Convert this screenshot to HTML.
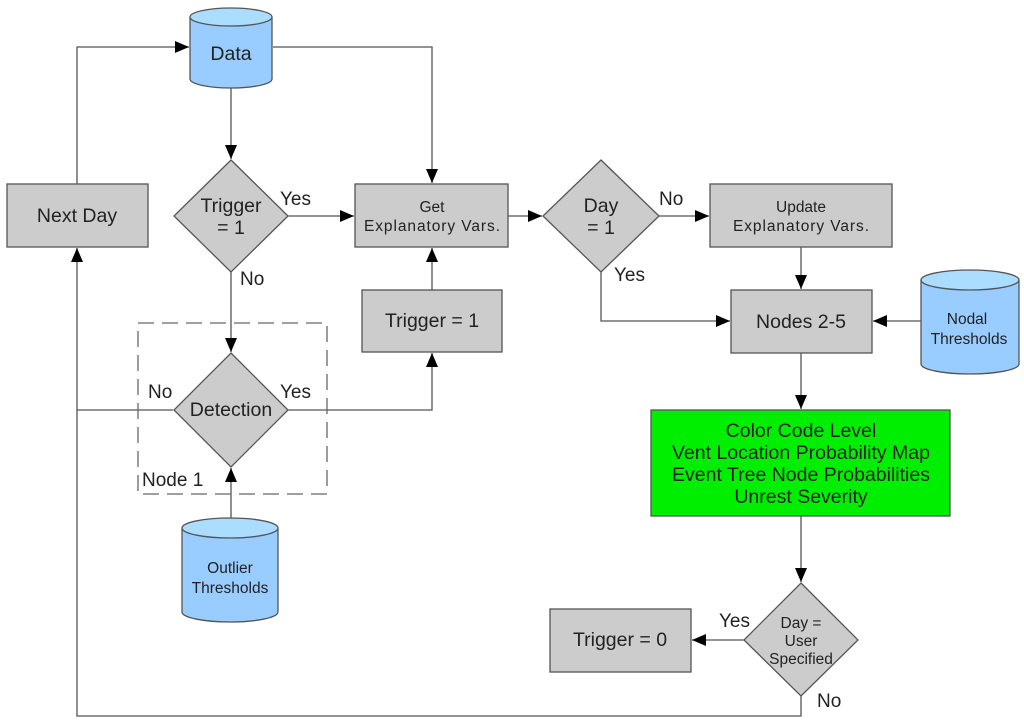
<!DOCTYPE html>
<html><head><style>body{margin:0;background:#fff}svg{display:block}text{font-family:"Liberation Sans",sans-serif;fill:#222}</style></head><body>
<svg width="1024" height="723" viewBox="0 0 1024 723">
<defs><marker id="a" markerWidth="14" markerHeight="12" refX="14" refY="6" orient="auto" markerUnits="userSpaceOnUse"><path d="M0,0L14,6L0,12z" fill="#000"/></marker></defs>
<g stroke="#555" stroke-width="1.3" fill="none">
<path d="M77,184V47H189" marker-end="url(#a)"/>
<path d="M273,47H432V183" marker-end="url(#a)"/>
<path d="M231,88V159" marker-end="url(#a)"/>
<path d="M288,216H354" marker-end="url(#a)"/>
<path d="M231,272V352" marker-end="url(#a)"/>
<path d="M508,216H542" marker-end="url(#a)"/>
<path d="M659,216H709" marker-end="url(#a)"/>
<path d="M801,247V289" marker-end="url(#a)"/>
<path d="M601,272V321H730" marker-end="url(#a)"/>
<path d="M921,321H873" marker-end="url(#a)"/>
<path d="M801,353V409" marker-end="url(#a)"/>
<path d="M801,516V582" marker-end="url(#a)"/>
<path d="M744,640H692" marker-end="url(#a)"/>
<path d="M801,696V716H77V248" marker-end="url(#a)"/>
<path d="M173,410H77"/>
<path d="M288,410H432V353" marker-end="url(#a)"/>
<path d="M432,290V248" marker-end="url(#a)"/>
<path d="M231,518V468" marker-end="url(#a)"/>
</g>
<rect x="138" y="323" width="189" height="171" fill="none" stroke="#666" stroke-width="1.3" stroke-dasharray="16,8"/>
<g stroke="#555" stroke-width="1.3" fill="#cccccc">
<rect x="7" y="184" width="141" height="63"/>
<rect x="355" y="184" width="153" height="63"/>
<rect x="710" y="184" width="182" height="63"/>
<rect x="731" y="290" width="141" height="63"/>
<rect x="362" y="290" width="140" height="62"/>
<rect x="550" y="609" width="141" height="63"/>
<path d="M231,160L288,216L231,272L174,216z"/>
<path d="M601,160L659,216L601,272L543,216z"/>
<path d="M231,353L288,410L231,467L174,410z"/>
<path d="M801,583L858,640L801,696L744,640z"/>
<rect x="651" y="410" width="299" height="106" fill="#00ee00"/>
</g>
<g stroke="#555" stroke-width="1.3" fill="#99ccff">
<path d="M190,17V79A41,9 0 0 0 272,79V17"/><ellipse cx="231" cy="17" rx="41" ry="9" fill="#aaddff"/>
<path d="M921,280V364A49,10 0 0 0 1019,364V280"/><ellipse cx="970" cy="280" rx="49" ry="10" fill="#aaddff"/>
<path d="M182,528V612A48,10 0 0 0 278,612V528"/><ellipse cx="230" cy="528" rx="48" ry="10" fill="#aaddff"/>
</g>
<g font-size="19.5" text-anchor="middle">
<text x="231" y="60">Data</text>
<text x="77" y="222">Next Day</text>
<text x="231" y="212">Trigger</text><text x="231" y="234">= 1</text>
<text x="601" y="212">Day</text><text x="601" y="234">= 1</text>
<text x="801" y="328">Nodes 2-5</text>
<text x="432" y="327">Trigger = 1</text>
<text x="231" y="416">Detection</text>
<text x="620" y="646">Trigger = 0</text>
<text x="801" y="437">Color Code Level</text>
<text x="801" y="459">Vent Location Probability Map</text>
<text x="801" y="481">Event Tree Node Probabilities</text>
<text x="801" y="503">Unrest Severity</text>
</g>
<g font-size="15.5" text-anchor="middle">
<text x="432" y="212">Get</text><text x="432" y="231" textLength="136">Explanatory Vars.</text>
<text x="801" y="212">Update</text><text x="801" y="231" textLength="136">Explanatory Vars.</text>
<text x="967" y="324">Nodal</text><text x="969" y="344">Thresholds</text>
<text x="230" y="573">Outlier</text><text x="230" y="593">Thresholds</text>
<text x="801" y="628">Day =</text><text x="801" y="646">User</text><text x="801" y="664">Specified</text>
</g>
<g font-size="19">
<text x="280" y="205">Yes</text><text x="240" y="285">No</text>
<text x="659" y="205">No</text><text x="614" y="281">Yes</text>
<text x="148" y="398">No</text><text x="280" y="398">Yes</text>
<text x="142" y="486">Node 1</text>
<text x="719" y="627">Yes</text><text x="817" y="707">No</text>
</g>
</svg>
</body></html>
